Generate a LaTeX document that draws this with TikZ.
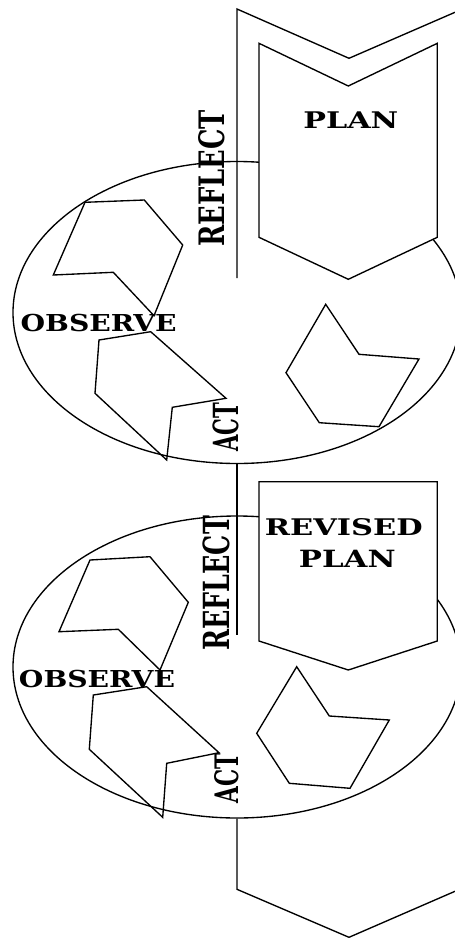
\documentclass[tikz,border=0pt]{standalone}
\usepackage{fontspec}
\setmainfont{DejaVu Serif}
\usepackage{graphicx}
\usetikzlibrary{shapes.geometric}
\newcommand\fitlab[3]{\resizebox{#1pt}{#2pt}{\bfseries #3}}
\begin{document}
\begin{tikzpicture}[x=1pt,y=-1pt,line width=1.35pt,line join=miter,
  ring/.style={ellipse,draw=black,minimum width=448pt,minimum height=302pt,inner sep=0pt},
  stepshape/.style={draw=black},
  planbox/.style={draw=black,fill=white},
  lbl/.style={inner sep=0pt,outer sep=0pt},
  vlbl/.style={inner sep=0pt,outer sep=0pt,rotate=90}]
\useasboundingbox (0,0) rectangle (455,938);
\clip (0,0) rectangle (455,938);
\fill[white] (0,0) rectangle (455,938);

% ---------- first cycle ----------
\node[ring] (e1) at (237,312.5) {};
% reflect / observe shape
\draw[stepshape] (85,202.3) -- (144.3,200) -- (182.7,245) -- (154,315.7) -- (113.3,272.3) -- (53.3,275) -- cycle;
% observe / act shape
\draw[stepshape] (99,340) -- (150.7,331.7) -- (226,398.3) -- (172.3,407.3) -- (166.7,460) -- (95,393.3) -- cycle;
% act shape
\draw[stepshape] (325.7,304.3) -- (359,354.3) -- (419,359) -- (379,426.7) -- (319.3,422.7) -- (286,372.7) -- cycle;

% outer top chevron with connector line
\coordinate (t0) at (237,278);
\coordinate (t1) at (237,9);
\coordinate (t2) at (349,58.3);
\coordinate (t3) at (475,3.6);
\draw (t0) -- (t1) -- (t2) -- (t3);

% PLAN box
\draw[planbox] (259,43.3) -- (348.3,86) -- (437.3,43.3) -- (437.3,237.3) -- (348.3,279.3) -- (259,237.3) -- cycle;
\node[lbl] (plan1) at (350.8,120) {\fitlab{95}{16.7}{PLAN}};
\node[vlbl] (reflect1) at (212,178.3) {\fitlab{136.7}{26}{REFLECT}};
\node[lbl] (observe1) at (98.7,323) {\fitlab{156}{17.3}{OBSERVE}};
\node[vlbl] (act1) at (226.2,427.2) {\fitlab{49}{25.7}{ACT}};

% ---------- connector between cycles ----------
\coordinate (m1) at (237,635);
\draw (e1.south) -- (m1);

% ---------- second cycle ----------
\node[ring] (e2) at (237,667) {};
\draw[stepshape] (90,560) -- (150,556.7) -- (188.3,602.3) -- (160,670) -- (118.3,629.3) -- (59,631.7) -- cycle;
\draw[stepshape] (93.3,695) -- (146.7,686.7) -- (219,752.7) -- (166.7,763.3) -- (162.7,817.3) -- (89.3,749.3) -- cycle;
\draw[stepshape] (296.7,666.7) -- (329.3,716) -- (389.3,720) -- (350,788.3) -- (289.3,783.3) -- (256.7,733.3) -- cycle;

% REVISED PLAN box
\draw[planbox] (259,481.7) -- (437.3,481.7) -- (437.3,641) -- (348.3,670) -- (259,641) -- cycle;
\node[lbl] (revised) at (343.8,527.5) {\fitlab{157.7}{17}{REVISED}};
\node[lbl] (plan2) at (347.3,558.7) {\fitlab{96.7}{17.3}{PLAN}};
\node[vlbl] (reflect2) at (216,583.3) {\fitlab{134.7}{26.7}{REFLECT}};
\node[lbl] (observe2) at (97,678.7) {\fitlab{156}{17.3}{OBSERVE}};
\node[vlbl] (act2) at (227,778.3) {\fitlab{50}{24}{ACT}};

% ---------- bottom chevron ----------
\coordinate (b1) at (237,889.3);
\coordinate (b2) at (349,937.3);
\coordinate (b3) at (475,882.6);
\draw (e2.south) -- (b1) -- (b2) -- (b3);
\end{tikzpicture}
\end{document}
